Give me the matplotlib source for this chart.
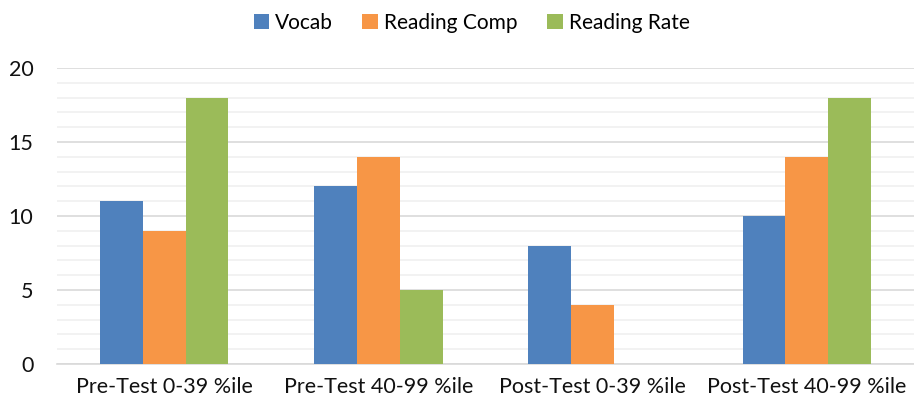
import numpy as np
import matplotlib
matplotlib.use("Agg")
import matplotlib.pyplot as plt
from matplotlib.ticker import MultipleLocator

categories = ["Pre-Test 0-39 %ile", "Pre-Test 40-99 %ile", "Post-Test 0-39 %ile", "Post-Test 40-99 %ile"]
vocab = [11, 12, 8, 10]
reading_comp = [9, 14, 4, 14]
reading_rate = [18, 5, 0, 18]

series = [("Vocab", vocab, "#4F81BD"),
          ("Reading Comp", reading_comp, "#F79646"),
          ("Reading Rate", reading_rate, "#9BBB59")]

plt.rcParams['font.family'] = ['Lato', 'DejaVu Sans']

fig = plt.figure(figsize=(9.14, 4.11), dpi=100)
ax = fig.add_axes([57 / 914, 1 - 364 / 411, 1 - 57 / 914, (364 - 68) / 411])

x = np.arange(len(categories))
w = 0.2
for i, (name, vals, col) in enumerate(series):
    ax.bar(x + (i - 1) * w, vals, width=w, color=col, label=name, zorder=3)

ax.set_xlim(-0.5, len(categories) - 0.5)
ax.set_ylim(0, 20)
ax.yaxis.set_major_locator(MultipleLocator(5))
ax.yaxis.set_minor_locator(MultipleLocator(1))
ax.grid(axis='y', which='major', color='#D9D9D9', linewidth=1.2, zorder=0)
ax.grid(axis='y', which='minor', color='#F0F0F0', linewidth=1.2, zorder=0)
ax.set_axisbelow(True)

ax.set_xticks(x)
ax.set_xticklabels(categories, fontsize=15.5, color='#111111')
ax.tick_params(axis='y', labelsize=15.5, colors='#111111', length=0, pad=17, which='both')
ax.tick_params(axis='x', length=0, pad=9)

for s in ['top', 'right', 'left']:
    ax.spines[s].set_visible(False)
ax.spines['bottom'].set_color('#D9D9D9')
ax.spines['bottom'].set_linewidth(1.2)

fig.legend(loc='upper center', bbox_to_anchor=(0.516, 1.015), ncol=3, frameon=False,
           fontsize=15, handlelength=0.75, handleheight=0.75, handletextpad=0.3,
           columnspacing=1.4)

plt.savefig("out.png", dpi=100)
